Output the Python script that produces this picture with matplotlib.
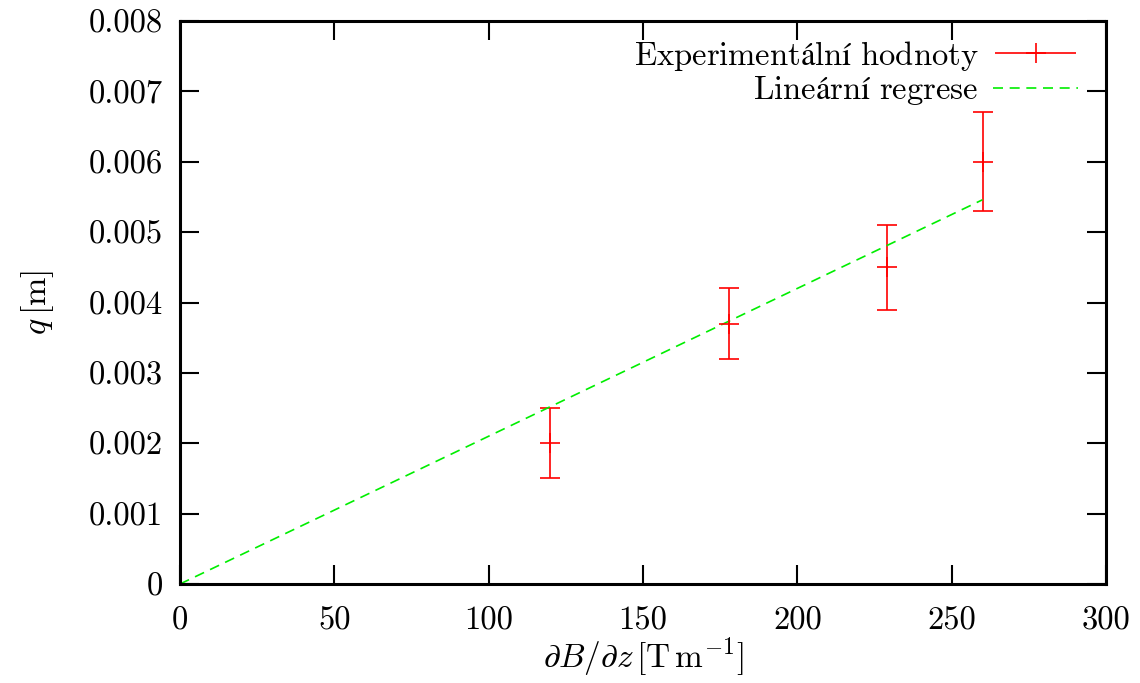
import numpy as np
import matplotlib
matplotlib.use('Agg')
from matplotlib import pyplot as plt
from matplotlib.legend_handler import HandlerErrorbar
from matplotlib.container import ErrorbarContainer

# namerene hodnoty
grad_B = [120, 178, 229, 260]
q = [0.0020, 0.0037, 0.0045, 0.0060]
q_err = [0.0005, 0.0005, 0.0006, 0.0007]
# smernice linearni regrese (primka z nuly)
slope = 2.1e-5

x_ticks = [0, 50, 100, 150, 200, 250, 300]
y_ticks = [0, 0.001, 0.002, 0.003, 0.004, 0.005, 0.006, 0.007, 0.008]
y_ticklabels = ['0', '0.001', '0.002', '0.003', '0.004', '0.005', '0.006', '0.007', '0.008']

plt.rcParams['mathtext.fontset'] = 'cm'
plt.rcParams['font.family'] = ['cmr10', 'DejaVu Serif']
plt.rcParams['axes.unicode_minus'] = False

fs = 23.5

fig = plt.figure(figsize=(11.4, 6.83), dpi=100)
ax = fig.add_axes([180/1140, 99/683, 926/1140, 563/683])

ax.errorbar(grad_B, q, yerr=q_err, fmt='+', color='#ff0000', ms=14, mew=1.2,
            elinewidth=1.2, capsize=7, capthick=1.2)
# proxy pro legendu ve stylu gnuplotu (vodorovna usecka)
proxy = ax.errorbar([], [], xerr=[], fmt='+', color='#ff0000', ms=14, mew=1.2,
                    elinewidth=1.2, capsize=7, capthick=1.2)

xf = np.array([0, max(grad_B)])
fit, = ax.plot(xf, slope * xf, '--', color='#00ee00', lw=1.2, dashes=(6, 4))

ax.set_xlim(0, 300)
ax.set_ylim(0, 0.008)
ax.set_xticks(x_ticks)
ax.set_xticklabels([str(t) for t in x_ticks])
ax.set_yticks(y_ticks)
ax.set_yticklabels(y_ticklabels)
ax.tick_params(direction='in', length=14, width=1.5, labelsize=fs,
               top=True, right=True)
ax.tick_params(axis='x', pad=16)
ax.tick_params(axis='y', pad=12)
for s in ax.spines.values():
    s.set_linewidth(2.2)

ax.set_xlabel(r'$\partial B/\partial z\,[\mathrm{T\,m^{-1}}]$', fontsize=24, labelpad=0)
ax.set_ylabel(r'$q\,[\mathrm{m}]$', fontsize=24.5, labelpad=24)

ax.legend([proxy, fit],
          [r'$\mathrm{Experimentální\ hodnoty}$',
           r'$\mathrm{Lineární\ regrese}$'],
          loc='upper right', bbox_to_anchor=(0.984, 0.992), frameon=False,
          markerfirst=False, fontsize=fs,
          handlelength=2.6, handletextpad=0.45, labelspacing=0.05,
          borderaxespad=0,
          handler_map={ErrorbarContainer: HandlerErrorbar(xerr_size=1.25)})

fig.savefig('out.png', dpi=100)
